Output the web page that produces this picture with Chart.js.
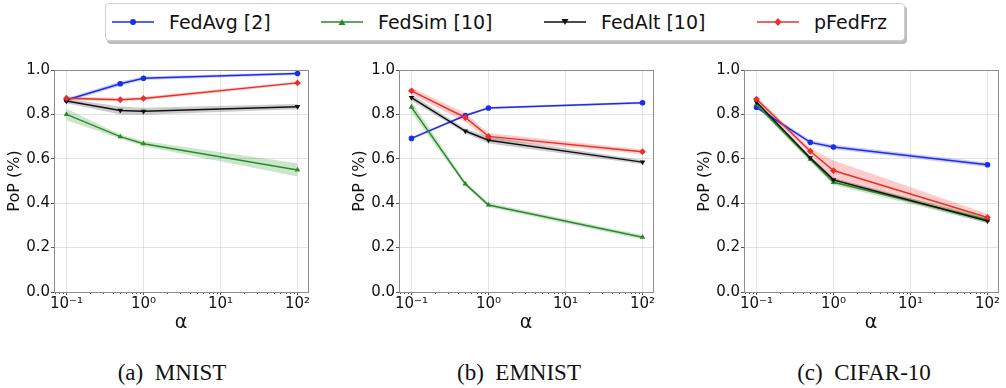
<!DOCTYPE html>
<html><head><meta charset="utf-8">
<script src="https://cdn.jsdelivr.net/npm/chart.js@4.4.1/dist/chart.umd.min.js"></script>
<style>
html,body{margin:0;padding:0;background:#fff;width:1006px;height:388px;overflow:hidden;position:relative;font-family:"DejaVu Sans",sans-serif;}
.cv{position:absolute;top:60px;width:320px;height:275px;}
#legend{position:absolute;left:105px;top:3px;width:798px;height:36px;border:1px solid #cfcfcf;border-radius:4px;box-shadow:2px 3px 0 #bdbdbd;background:#fff;}
.item{position:absolute;top:0;height:36px;display:flex;align-items:center;font-size:19px;color:#111;white-space:pre;}
.item svg{margin-right:15px;}
.cap{position:absolute;top:362px;line-height:22px;font-family:"Liberation Serif",serif;font-size:23px;transform:translateX(-50%);white-space:pre;color:#111;}
</style></head>
<body>
<div id="legend"></div>
<canvas id="c0" class="cv" width="320" height="275" style="left:0px"></canvas>
<canvas id="c1" class="cv" width="320" height="275" style="left:345px"></canvas>
<canvas id="c2" class="cv" width="320" height="275" style="left:690px"></canvas>
<div class="cap" style="left:172px">(a)  MNIST</div>
<div class="cap" style="left:519px">(b)  EMNIST</div>
<div class="cap" style="left:864px">(c)  CIFAR-10</div>
<script>
// ---------- data ----------
const alphas = [0.1, 0.5, 1, 100];
const xTickValues = [0.1, 1, 10, 100];
const xTickLabels = ['10\u207B\u00B9', '10\u2070', '10\u00B9', '10\u00B2'];
const yTickValues = [0, 0.2, 0.4, 0.6, 0.8, 1.0];
const yTickLabels = ['0.0', '0.2', '0.4', '0.6', '0.8', '1.0'];
const seriesNames = ['FedAvg [2]', 'FedSim [10]', 'FedAlt [10]', 'pFedFrz'];
const yTitle = 'PoP (%)';
const xTitle = '\u03B1';

// MNIST
const mnistFedAvg  = [0.865, 0.938, 0.963, 0.984];
const mnistFedSim  = [0.800, 0.700, 0.668, 0.550];
const mnistFedAlt  = [0.860, 0.818, 0.814, 0.835];
const mnistPFedFrz = [0.873, 0.866, 0.872, 0.942];
const mnistFedAvgBand  = [0.008, 0.010, 0.008, 0.006];
const mnistFedSimBand  = [0.026, 0.010, 0.012, 0.030];
const mnistFedAltBand  = [0.010, 0.018, 0.016, 0.012];
const mnistPFedFrzBand = [0.008, 0.008, 0.008, 0.006];

// EMNIST
const emnistFedAvg  = [0.692, 0.795, 0.829, 0.852];
const emnistFedSim  = [0.833, 0.487, 0.392, 0.247];
const emnistFedAlt  = [0.876, 0.725, 0.684, 0.585];
const emnistPFedFrz = [0.906, 0.786, 0.701, 0.632];
const emnistFedAvgBand  = [0.006, 0.006, 0.005, 0.005];
const emnistFedSimBand  = [0.026, 0.010, 0.010, 0.010];
const emnistFedAltBand  = [0.015, 0.010, 0.015, 0.010];
const emnistPFedFrzBand = [0.015, 0.020, 0.015, 0.010];

// CIFAR-10
const cifarFedAvg  = [0.832, 0.674, 0.653, 0.573];
const cifarFedSim  = [0.845, 0.598, 0.494, 0.325];
const cifarFedAlt  = [0.856, 0.604, 0.505, 0.320];
const cifarPFedFrz = [0.869, 0.634, 0.547, 0.336];
const cifarFedAvgBand  = [0.008, 0.010, 0.010, 0.010];
const cifarFedSimBand  = [0.010, 0.012, 0.012, 0.014];
const cifarFedAltBand  = [0.008, 0.010, 0.010, 0.010];
const cifarPFedFrzBand = [0.010, 0.015, 0.045, 0.017];

// ---------- styles ----------
const styles = [
  {color:'#1a2ee6', band:'rgba(0,0,255,0.2)',   marker:'circle',   r:2.8, rot:0,   order:4},
  {color:'#2a8a2a', band:'rgba(0,128,0,0.2)',   marker:'triangle', r:3.2, rot:0,   order:3},
  {color:'#111111', band:'rgba(0,0,0,0.2)',     marker:'triangle', r:3.2, rot:180, order:2},
  {color:'#e8302a', band:'rgba(255,0,0,0.2)',   marker:'rectRot',  r:3.4, rot:0,   order:1}
];

const panels = [
  {id:'c0', means:[mnistFedAvg, mnistFedSim, mnistFedAlt, mnistPFedFrz], bands:[mnistFedAvgBand, mnistFedSimBand, mnistFedAltBand, mnistPFedFrzBand]},
  {id:'c1', means:[emnistFedAvg, emnistFedSim, emnistFedAlt, emnistPFedFrz], bands:[emnistFedAvgBand, emnistFedSimBand, emnistFedAltBand, emnistPFedFrzBand]},
  {id:'c2', means:[cifarFedAvg, cifarFedSim, cifarFedAlt, cifarPFedFrz], bands:[cifarFedAvgBand, cifarFedSimBand, cifarFedAltBand, cifarPFedFrzBand]}
];

// ---------- legend ----------
function markerSvg(st) {
  let m = '';
  const cx = 21, cy = 10;
  if (st.marker === 'circle') m = `<circle cx="${cx}" cy="${cy}" r="3" fill="${st.color}"/>`;
  else if (st.marker === 'rectRot') m = `<polygon points="${cx},${cy-4} ${cx+3.5},${cy} ${cx},${cy+4} ${cx-3.5},${cy}" fill="${st.color}"/>`;
  else if (st.rot === 180) m = `<polygon points="${cx-3.5},${cy-3} ${cx+3.5},${cy-3} ${cx},${cy+3}" fill="${st.color}"/>`;
  else m = `<polygon points="${cx-3.5},${cy+3} ${cx+3.5},${cy+3} ${cx},${cy-3}" fill="${st.color}"/>`;
  return `<svg width="42" height="20" viewBox="0 0 42 20"><line x1="0" y1="10" x2="42" y2="10" stroke="${st.color}" stroke-width="1.6"/>${m}</svg>`;
}
const legendX = [6, 215, 438, 651];
const legend = document.getElementById('legend');
seriesNames.forEach((n, i) => {
  const d = document.createElement('div');
  d.className = 'item';
  d.style.left = legendX[i] + 'px';
  d.innerHTML = markerSvg(styles[i]) + '<span>' + n + '</span>';
  legend.appendChild(d);
});

// ---------- chart ----------
const framePlugin = {
  id: 'frame',
  afterDraw(chart) {
    const {ctx, chartArea: {left, right, top, bottom}} = chart;
    const xs = chart.scales.x;
    ctx.save();
    ctx.strokeStyle = '#555';
    ctx.lineWidth = 1;
    ctx.beginPath();
    for (let k = -2; k <= 2; k++) {
      for (let m = 2; m <= 9; m++) {
        const v = m * Math.pow(10, k);
        if (v < xs.min || v > xs.max) continue;
        const px = Math.round(xs.getPixelForValue(v)) + 0.5;
        ctx.moveTo(px, bottom);
        ctx.lineTo(px, bottom + 2);
      }
    }
    ctx.stroke();
    ctx.strokeStyle = '#8c8c8c';
    ctx.strokeRect(Math.round(left) + 0.5, Math.round(top) + 0.5, Math.round(right - left), Math.round(bottom - top));
    ctx.restore();
  }
};

function buildDatasets(p) {
  const ds = [];
  p.means.forEach((mean, i) => {
    const st = styles[i];
    const band = p.bands[i];
    const upIdx = ds.length;
    ds.push({data: alphas.map((a, j) => ({x: a, y: mean[j] + band[j]})), borderWidth: 0, pointRadius: 0, fill: false, order: 100 + i, borderColor: 'transparent'});
    ds.push({data: alphas.map((a, j) => ({x: a, y: mean[j] - band[j]})), borderWidth: 0, pointRadius: 0, fill: {target: upIdx}, backgroundColor: st.band, order: 100 + i, borderColor: 'transparent'});
    ds.push({data: alphas.map((a, j) => ({x: a, y: mean[j]})), borderColor: st.color, backgroundColor: st.color,
      borderWidth: 1.5, pointStyle: st.marker, pointRadius: st.r, pointRotation: st.rot, pointBorderWidth: 0,
      fill: false, order: st.order, tension: 0});
  });
  return ds;
}

panels.forEach(p => {
  new Chart(document.getElementById(p.id), {
    type: 'line',
    data: {datasets: buildDatasets(p)},
    options: {
      responsive: false, animation: false, maintainAspectRatio: false, devicePixelRatio: 1,
      layout: {padding: {top: 9, right: 12, left: 0, bottom: 0}},
      plugins: {legend: {display: false}, tooltip: {enabled: false}},
      scales: {
        x: {
          type: 'logarithmic', min: 0.0689, max: 136.8,
          afterBuildTicks: s => { s.ticks = xTickValues.map(v => ({value: v})); },
          afterFit: s => { s.height = 43; },
          ticks: {callback: (v, i) => xTickLabels[i], color: '#111', font: {family: 'DejaVu Sans', size: 15}, padding: 0, maxRotation: 0, autoSkip: false},
          grid: {color: 'rgba(0,0,0,0.11)', tickColor: '#555', tickLength: 3, drawTicks: true},
          border: {display: false},
          title: {display: true, text: xTitle, color: '#111', font: {family: 'DejaVu Sans', size: 19}, padding: {top: 0, bottom: 1}}
        },
        y: {
          min: 0, max: 1,
          afterBuildTicks: s => { s.ticks = yTickValues.map(v => ({value: v})); },
          afterFit: s => { s.width = 54; },
          ticks: {callback: (v, i) => yTickLabels[i], color: '#111', font: {family: 'DejaVu Sans', size: 15}, padding: 1},
          grid: {color: 'rgba(0,0,0,0.11)', tickColor: '#555', tickLength: 3, drawTicks: true},
          border: {display: false},
          title: {display: true, text: yTitle, color: '#111', font: {family: 'DejaVu Sans', size: 16}, padding: {top: 5, bottom: 0}}
        }
      }
    },
    plugins: [framePlugin]
  });
});
</script>
</body></html>
